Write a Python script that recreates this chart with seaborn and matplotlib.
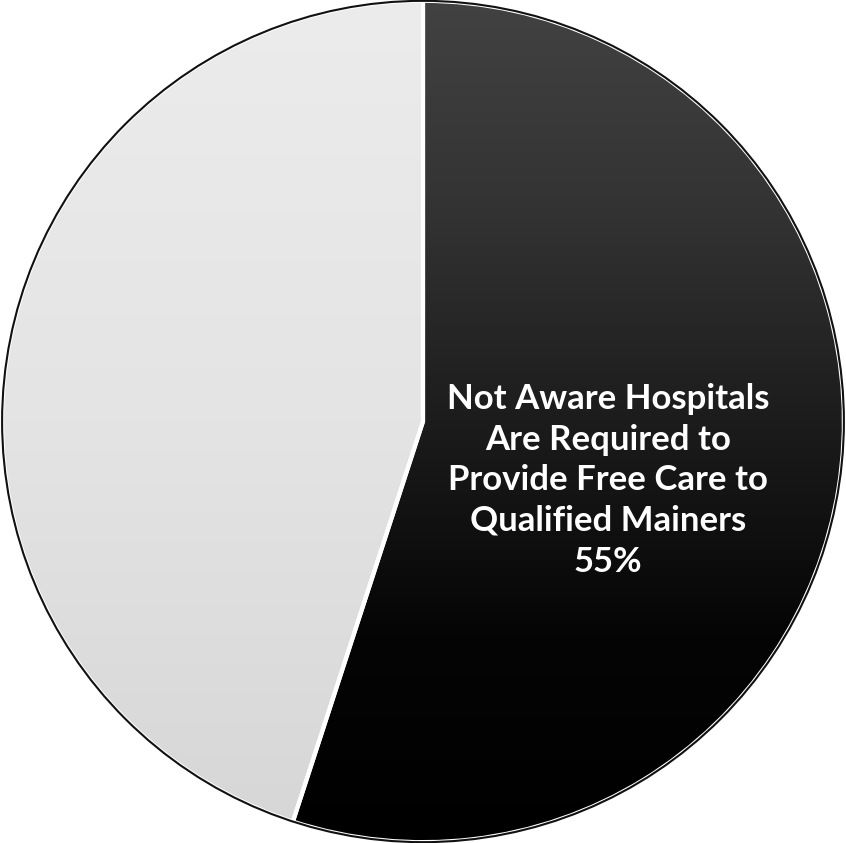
import numpy as np
import seaborn as sns
import matplotlib.pyplot as plt
from matplotlib.patches import Wedge

# Survey shares (percent)
labels = ["Not Aware Hospitals\nAre Required to\nProvide Free Care to\nQualified Mainers\n55%", ""]
values = [55, 45]
colors = ["#2b2b2b", "#e2e2e2"]

sns.set_theme(style="white")
plt.rcParams['font.family'] = ['Lato', 'DejaVu Sans']

fig = plt.figure(figsize=(8.46, 8.43), dpi=100)
ax = fig.add_axes([0, 0, 1, 1])

wedges, texts = ax.pie(
    values,
    colors=colors,
    startangle=90,
    counterclock=False,
    radius=1.0,
    wedgeprops=dict(edgecolor="white", linewidth=3),
)

# Soft vertical shading inside each slice (top -> bottom)
grad = np.linspace(0.0, 1.0, 256).reshape(-1, 1)
shades = [["#424242", "#333333", "#1c1c1c", "#050505", "#000000"],
          ["#ececec", "#e4e4e4", "#d6d6d6"]]
for wedge, cols in zip(wedges, shades):
    cmap = sns.blend_palette(cols, as_cmap=True)
    im = ax.imshow(grad, extent=(-1.01, 1.01, -1.01, 1.01), cmap=cmap,
                   aspect="auto", origin="upper", zorder=wedge.get_zorder() + 0.1)
    im.set_clip_path(wedge)

# Separator and outline on top of shading
for wedge in wedges:
    ax.add_patch(Wedge(wedge.center, wedge.r, wedge.theta1, wedge.theta2,
                       facecolor="none", edgecolor="white", linewidth=3, zorder=5))
ax.add_patch(plt.Circle((0, 0), 1.0, facecolor="none", edgecolor="#111111",
                        linewidth=1.5, zorder=6))

ax.text(0.44, -0.14, labels[0], ha="center", va="center", color="white",
        fontsize=25, fontweight="bold", linespacing=1.33, zorder=7)

ax.set_xlim(-1.005, 1.005)
ax.set_ylim(-1.002, 1.002)
ax.set_aspect("auto")
ax.axis("off")

fig.savefig("out.png", dpi=100, facecolor="white")
